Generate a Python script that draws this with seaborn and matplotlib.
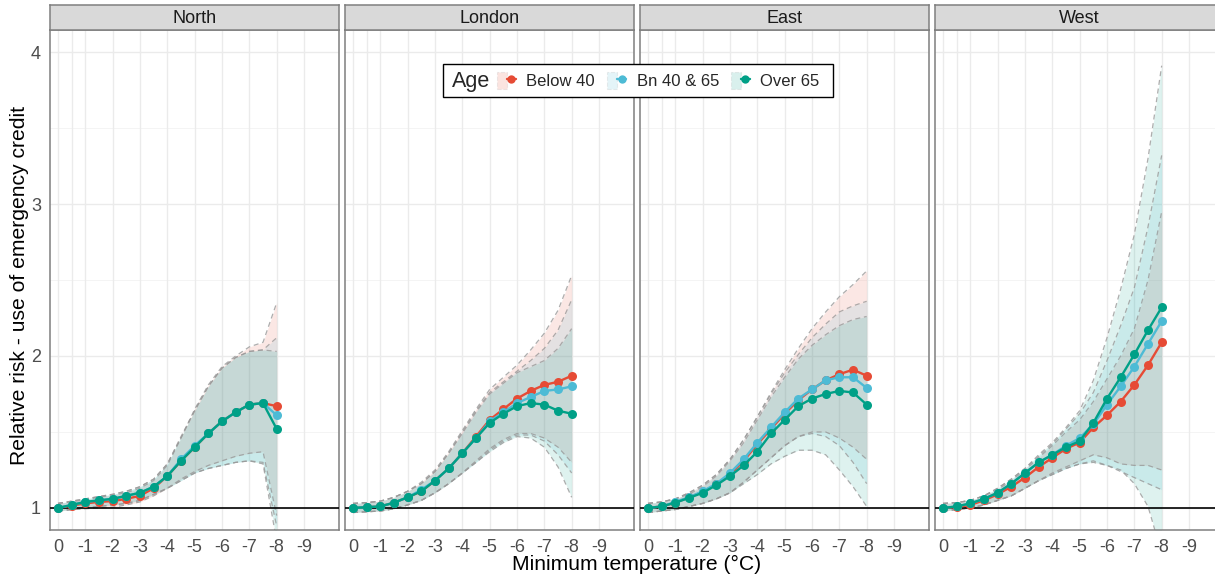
import matplotlib
matplotlib.use("Agg")
import matplotlib.pyplot as plt
import seaborn as sns
import pandas as pd
from matplotlib.patches import Patch, Rectangle
from matplotlib.lines import Line2D
from matplotlib.legend_handler import HandlerTuple

# ---------------- data ----------------
temps = [0, -0.5, -1, -1.5, -2, -2.5, -3, -3.5, -4, -4.5, -5, -5.5, -6, -6.5, -7, -7.5, -8]
regions = ["North", "London", "East", "West"]
ages = ["Below 40", "Bn 40 & 65", "Over 65"]
age_colors = ["#E64B35", "#4DBBD5", "#00A087"]
x_ticks = [0, -0.5, -1, -2, -3, -4, -5, -6, -7, -8, -9]
x_tick_labels = ["0", "", "-1", "-2", "-3", "-4", "-5", "-6", "-7", "-8", "-9"]
y_ticks = [1, 2, 3, 4]

# North
north_below40 = [1.00, 1.015, 1.03, 1.04, 1.045, 1.06, 1.08, 1.13, 1.21, 1.31, 1.40, 1.49, 1.57, 1.63, 1.68, 1.69, 1.67]
north_below40_lo = [0.98, 0.99, 0.995, 1.00, 1.005, 1.02, 1.04, 1.08, 1.13, 1.19, 1.24, 1.28, 1.31, 1.34, 1.36, 1.37, 0.95]
north_below40_hi = [1.03, 1.04, 1.055, 1.07, 1.085, 1.10, 1.13, 1.18, 1.28, 1.46, 1.65, 1.81, 1.93, 2.00, 2.06, 2.09, 2.35]
north_mid = [1.00, 1.02, 1.04, 1.05, 1.06, 1.08, 1.10, 1.14, 1.21, 1.32, 1.41, 1.49, 1.57, 1.63, 1.68, 1.69, 1.61]
north_mid_lo = [0.98, 0.99, 1.00, 1.01, 1.02, 1.03, 1.05, 1.09, 1.13, 1.18, 1.23, 1.26, 1.28, 1.30, 1.31, 1.30, 0.88]
north_mid_hi = [1.03, 1.045, 1.06, 1.075, 1.09, 1.11, 1.14, 1.19, 1.29, 1.46, 1.64, 1.80, 1.92, 1.99, 2.03, 2.04, 2.12]
north_over65 = [1.00, 1.02, 1.04, 1.05, 1.06, 1.08, 1.10, 1.14, 1.21, 1.31, 1.40, 1.49, 1.57, 1.63, 1.68, 1.69, 1.52]
north_over65_lo = [0.98, 0.99, 1.00, 1.01, 1.02, 1.03, 1.05, 1.09, 1.13, 1.18, 1.23, 1.26, 1.28, 1.30, 1.31, 1.29, 0.78]
north_over65_hi = [1.03, 1.045, 1.06, 1.075, 1.09, 1.11, 1.14, 1.19, 1.29, 1.47, 1.64, 1.80, 1.92, 1.99, 2.03, 2.04, 2.03]

# London
london_below40 = [1.00, 1.005, 1.01, 1.035, 1.07, 1.11, 1.18, 1.26, 1.36, 1.47, 1.58, 1.65, 1.72, 1.77, 1.81, 1.83, 1.87]
london_below40_lo = [0.97, 0.975, 0.98, 0.995, 1.02, 1.05, 1.10, 1.16, 1.23, 1.31, 1.39, 1.45, 1.49, 1.49, 1.46, 1.40, 1.30]
london_below40_hi = [1.03, 1.035, 1.045, 1.07, 1.11, 1.17, 1.25, 1.37, 1.51, 1.65, 1.78, 1.86, 1.94, 2.04, 2.15, 2.30, 2.53]
london_mid = [1.00, 1.005, 1.01, 1.035, 1.07, 1.12, 1.18, 1.26, 1.36, 1.46, 1.57, 1.63, 1.69, 1.73, 1.77, 1.78, 1.80]
london_mid_lo = [0.97, 0.975, 0.98, 0.995, 1.02, 1.05, 1.10, 1.16, 1.23, 1.30, 1.38, 1.44, 1.48, 1.48, 1.44, 1.35, 1.23]
london_mid_hi = [1.03, 1.035, 1.045, 1.07, 1.11, 1.16, 1.24, 1.36, 1.50, 1.64, 1.76, 1.83, 1.90, 1.97, 2.05, 2.17, 2.37]
london_over65 = [1.00, 1.005, 1.01, 1.035, 1.07, 1.11, 1.18, 1.26, 1.36, 1.46, 1.56, 1.62, 1.67, 1.69, 1.68, 1.64, 1.62]
london_over65_lo = [0.97, 0.975, 0.98, 0.995, 1.02, 1.05, 1.10, 1.16, 1.23, 1.30, 1.37, 1.43, 1.47, 1.46, 1.40, 1.27, 1.07]
london_over65_hi = [1.03, 1.035, 1.045, 1.07, 1.11, 1.16, 1.24, 1.36, 1.49, 1.63, 1.75, 1.82, 1.89, 1.93, 1.97, 2.05, 2.18]

# East
east_below40 = [1.00, 1.01, 1.035, 1.07, 1.105, 1.155, 1.22, 1.31, 1.42, 1.52, 1.62, 1.71, 1.78, 1.84, 1.88, 1.91, 1.87]
east_below40_lo = [0.97, 0.98, 0.99, 1.01, 1.03, 1.06, 1.10, 1.17, 1.25, 1.33, 1.41, 1.47, 1.50, 1.50, 1.46, 1.40, 1.32]
east_below40_hi = [1.03, 1.04, 1.06, 1.10, 1.15, 1.22, 1.32, 1.45, 1.60, 1.76, 1.91, 2.05, 2.18, 2.29, 2.39, 2.47, 2.56]
east_mid = [1.00, 1.01, 1.04, 1.07, 1.11, 1.16, 1.23, 1.32, 1.43, 1.53, 1.63, 1.72, 1.78, 1.84, 1.86, 1.86, 1.79]
east_mid_lo = [0.97, 0.98, 0.99, 1.01, 1.03, 1.06, 1.10, 1.17, 1.25, 1.33, 1.41, 1.47, 1.49, 1.47, 1.41, 1.30, 1.16]
east_mid_hi = [1.03, 1.04, 1.06, 1.10, 1.15, 1.22, 1.32, 1.45, 1.60, 1.75, 1.89, 2.01, 2.12, 2.21, 2.29, 2.33, 2.36]
east_over65 = [1.00, 1.01, 1.035, 1.066, 1.10, 1.15, 1.21, 1.28, 1.37, 1.49, 1.58, 1.67, 1.72, 1.75, 1.77, 1.76, 1.68]
east_over65_lo = [0.97, 0.98, 0.99, 1.01, 1.03, 1.06, 1.10, 1.16, 1.22, 1.29, 1.34, 1.38, 1.38, 1.35, 1.25, 1.14, 1.01]
east_over65_hi = [1.03, 1.04, 1.06, 1.09, 1.14, 1.21, 1.31, 1.43, 1.58, 1.73, 1.86, 1.98, 2.07, 2.14, 2.20, 2.24, 2.26]

# West
west_below40 = [1.00, 1.005, 1.02, 1.05, 1.09, 1.14, 1.20, 1.27, 1.33, 1.39, 1.43, 1.53, 1.61, 1.70, 1.81, 1.94, 2.09]
west_below40_lo = [0.98, 0.99, 1.00, 1.02, 1.05, 1.08, 1.13, 1.18, 1.23, 1.27, 1.31, 1.35, 1.33, 1.29, 1.28, 1.28, 1.25]
west_below40_hi = [1.03, 1.035, 1.05, 1.08, 1.12, 1.18, 1.25, 1.33, 1.41, 1.50, 1.58, 1.70, 1.85, 2.00, 2.18, 2.50, 2.95]
west_mid = [1.00, 1.01, 1.03, 1.06, 1.10, 1.16, 1.23, 1.30, 1.35, 1.41, 1.46, 1.55, 1.68, 1.80, 1.93, 2.08, 2.23]
west_mid_lo = [0.98, 0.99, 1.00, 1.02, 1.05, 1.08, 1.13, 1.18, 1.22, 1.26, 1.29, 1.31, 1.28, 1.24, 1.20, 1.16, 1.12]
west_mid_hi = [1.03, 1.035, 1.05, 1.08, 1.13, 1.19, 1.26, 1.34, 1.42, 1.52, 1.62, 1.76, 1.97, 2.20, 2.45, 2.85, 3.32]
west_over65 = [1.00, 1.01, 1.03, 1.06, 1.10, 1.16, 1.23, 1.30, 1.35, 1.40, 1.44, 1.56, 1.72, 1.86, 2.01, 2.17, 2.32]
west_over65_lo = [0.98, 0.99, 1.00, 1.02, 1.05, 1.08, 1.13, 1.18, 1.22, 1.26, 1.29, 1.30, 1.28, 1.25, 1.16, 1.01, 0.70]
west_over65_hi = [1.03, 1.035, 1.05, 1.08, 1.13, 1.19, 1.26, 1.35, 1.43, 1.53, 1.64, 1.84, 2.12, 2.44, 2.80, 3.30, 3.91]

series = {
    "North": [(north_below40, north_below40_lo, north_below40_hi),
              (north_mid, north_mid_lo, north_mid_hi),
              (north_over65, north_over65_lo, north_over65_hi)],
    "London": [(london_below40, london_below40_lo, london_below40_hi),
               (london_mid, london_mid_lo, london_mid_hi),
               (london_over65, london_over65_lo, london_over65_hi)],
    "East": [(east_below40, east_below40_lo, east_below40_hi),
             (east_mid, east_mid_lo, east_mid_hi),
             (east_over65, east_over65_lo, east_over65_hi)],
    "West": [(west_below40, west_below40_lo, west_below40_hi),
             (west_mid, west_mid_lo, west_mid_hi),
             (west_over65, west_over65_lo, west_over65_hi)],
}

rows = []
for reg in regions:
    for age, (est, lo, hi) in zip(ages, series[reg]):
        for t, e, l, h in zip(temps, est, lo, hi):
            rows.append(dict(Region=reg, Age=age, temp=t, rr=e, lo=l, hi=h))
df = pd.DataFrame(rows)

# ---------------- style ----------------
sns.set_style("white")
plt.rcParams["font.family"] = ["Liberation Sans", "DejaVu Sans"]

W, H = 1215, 579
fig = plt.figure(figsize=(W / 100, H / 100), dpi=100)
palette = dict(zip(ages, age_colors))

panel_left0, panel_w, gap = 50, 289, 6
panel_top, panel_bot = 30, 530
strip_top = 5
tick_col = "#4D4D4D"
border_col = "#7F7F7F"

for i, reg in enumerate(regions):
    lx = panel_left0 + i * (panel_w + gap)
    ax = fig.add_axes([lx / W, 1 - panel_bot / H, panel_w / W, (panel_bot - panel_top) / H])
    sub = df[df.Region == reg]
    ax.set_xlim(0.293, -10.28)
    ax.set_ylim(0.855, 4.145)
    # grid
    for yv in [1.5, 2.5, 3.5]:
        ax.axhline(yv, color="#F2F2F2", lw=0.6, zorder=0)
    for yv in y_ticks:
        ax.axhline(yv, color="#EBEBEB", lw=1.0, zorder=0)
    for xv in x_ticks:
        ax.axvline(xv, color="#EBEBEB", lw=1.0, zorder=0)
    # ribbons
    for age in ages:
        s = sub[sub.Age == age]
        ax.fill_between(s.temp, s.lo, s.hi, color=palette[age], alpha=0.13, lw=0, zorder=1)
    for age in ages:
        s = sub[sub.Age == age]
        for col in ["lo", "hi"]:
            ax.plot(s.temp, s[col], color="#999999", lw=0.9, ls=(0, (4, 3)), alpha=0.8, zorder=2)
    ax.axhline(1, color="black", lw=1.2, zorder=3)
    sns.lineplot(data=sub, x="temp", y="rr", hue="Age", hue_order=ages, palette=palette,
                 marker="o", markersize=6.5, markeredgewidth=0, linewidth=1.7,
                 legend=False, ax=ax, zorder=4)
    ax.set_xlabel("")
    ax.set_ylabel("")
    ax.set_xticks(x_ticks)
    ax.set_xticklabels(x_tick_labels)
    ax.set_yticks(y_ticks)
    if i == 0:
        ax.set_yticklabels([str(v) for v in y_ticks])
    else:
        ax.set_yticklabels([])
    ax.tick_params(axis="both", colors=tick_col, labelcolor=tick_col, labelsize=13,
                   length=3.5, width=0.8, direction="out", pad=3)
    if i != 0:
        ax.tick_params(axis="y", length=0)
    for sp in ax.spines.values():
        sp.set_color(border_col)
        sp.set_linewidth(1.1)
    # strip
    sax = fig.add_axes([lx / W, 1 - panel_top / H, panel_w / W, (panel_top - strip_top) / H])
    sax.set_facecolor("#D9D9D9")
    sax.set_xticks([])
    sax.set_yticks([])
    for sp in sax.spines.values():
        sp.set_color(border_col)
        sp.set_linewidth(1.1)
    sax.text(0.5, 0.45, reg, ha="center", va="center", fontsize=13, color="#1A1A1A",
             transform=sax.transAxes)

fig.text(637 / W, 1 - 564 / H, "Minimum temperature (°C)", ha="center", va="center",
         fontsize=15.2, color="black")
fig.text(20 / W, 1 - 285 / H, "Relative risk - use of emergency credit", ha="center",
         va="center", rotation=90, fontsize=15.2, color="black")

# legend
fig.patches.append(Rectangle((443 / W, 1 - 97 / H), (833 - 443) / W, 33 / H,
                             transform=fig.transFigure, fill=True, facecolor="white",
                             edgecolor="black", lw=1.0, zorder=10))
fig.text(452 / W, 1 - 81 / H, "Age", ha="left", va="center", fontsize=15.5, zorder=11)
handles = []
for age in ages:
    p = Patch(facecolor=palette[age], alpha=0.15, edgecolor="#8C8C8C", linestyle="--", lw=0.8)
    l = Line2D([], [], color=palette[age], marker="o", markersize=6, lw=1.7, markeredgewidth=0)
    handles.append((p, l))
leg = fig.legend(handles, ages, handler_map={tuple: HandlerTuple(ndivide=None, pad=0)},
                 loc="center left", bbox_to_anchor=(497 / W, 1 - 80.5 / H), ncol=3,
                 frameon=False, fontsize=12, handlelength=1.15, handleheight=1.15,
                 handletextpad=0.62, columnspacing=0.72, borderpad=0, borderaxespad=0)
leg.set_zorder(12)

fig.savefig("out.png", dpi=100)
